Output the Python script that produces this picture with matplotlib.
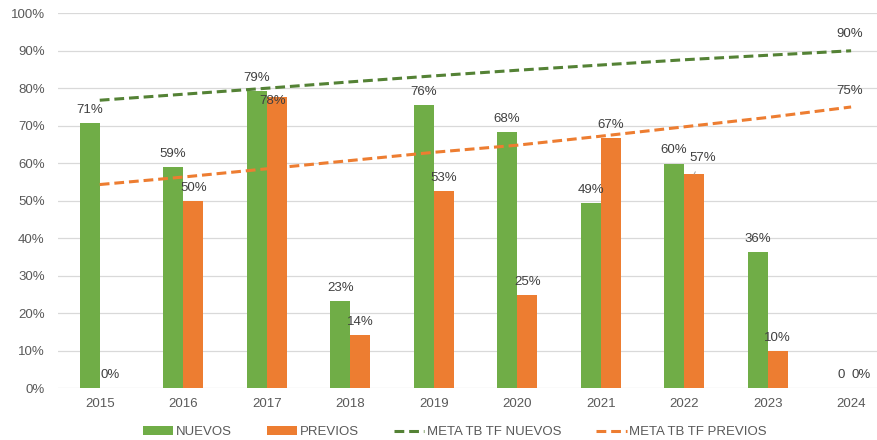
import numpy as np
import matplotlib
matplotlib.use('Agg')
import matplotlib.pyplot as plt

years = ['2015', '2016', '2017', '2018', '2019', '2020', '2021', '2022', '2023', '2024']
nuevos = [0.706, 0.590, 0.793, 0.232, 0.756, 0.682, 0.493, 0.599, 0.364, 0.0]
previos = [0.0, 0.500, 0.777, 0.141, 0.525, 0.248, 0.666, 0.571, 0.099, 0.0]
meta_nuevos = [0.768, 0.784, 0.800, 0.817, 0.833, 0.848, 0.862, 0.876, 0.888, 0.900]
meta_previos = [0.543, 0.563, 0.585, 0.607, 0.629, 0.648, 0.672, 0.697, 0.722, 0.750]
nuevos_lbl = ['71%', '59%', '79%', '23%', '76%', '68%', '49%', '60%', '36%', '0']
previos_lbl = ['0%', '50%', '78%', '14%', '53%', '25%', '67%', '57%', '10%', '0%']

GREEN = '#70AD47'
ORANGE = '#ED7D31'
DGREEN = '#548235'
TXT = '#404040'
AX = '#595959'

plt.rcParams['font.family'] = ['Liberation Sans', 'DejaVu Sans']

fig = plt.figure(figsize=(8.78, 4.40), dpi=100)
ax = fig.add_axes([58/878, 52/440, 819/878, 374.7/440])

x = np.arange(len(years))
w = 0.24
b1 = ax.bar(x - w/2, nuevos, w, color=GREEN, label='NUEVOS', zorder=2)
b2 = ax.bar(x + w/2, previos, w, color=ORANGE, label='PREVIOS', zorder=2)
l1, = ax.plot(x, meta_nuevos, color=DGREEN, lw=2.2, dashes=(3.2, 1.6),
              label='META TB TF NUEVOS', zorder=3)
l2, = ax.plot(x, meta_previos, color=ORANGE, lw=2.2, dashes=(3.2, 1.6),
              label='META TB TF PREVIOS', zorder=3)

ax.set_xlim(-0.5, 9.31)
ax.set_ylim(0, 1.0)
ax.set_yticks(np.arange(0, 1.01, 0.1))
ax.set_yticklabels(['%d%%' % round(v * 100) for v in np.arange(0, 1.01, 0.1)])
ax.set_xticks(x)
ax.set_xticklabels(years)
ax.tick_params(axis='both', length=0, labelsize=9.5, colors=AX)
ax.tick_params(axis='y', pad=9.5)
ax.tick_params(axis='x', pad=7)
ax.grid(axis='y', color='#D9D9D9', lw=0.9, zorder=0)
ax.set_axisbelow(True)
for s in ax.spines.values():
    s.set_visible(False)

fs = 9.5
for i in range(len(years)):
    ax.annotate(nuevos_lbl[i], (x[i] - w/2, nuevos[i]), xytext=(0, 9.4),
                textcoords='offset points', ha='center', va='center',
                fontsize=fs, color=TXT, zorder=4)
    if i == 2:
        off = (-3, -3)
    elif i == 7:
        off = (6, 11.5)
    else:
        off = (0, 9.4)
    if i == 7:
        # label pushed aside, with a small leader line
        ax.annotate(previos_lbl[i], (x[i] + w/2, previos[i]), xytext=off,
                    textcoords='offset points', ha='center', va='center',
                    fontsize=fs, color=TXT, zorder=4,
                    arrowprops=dict(arrowstyle='-', color='#A6A6A6', lw=0.75,
                                    shrinkA=4, shrinkB=0))
    else:
        ax.annotate(previos_lbl[i], (x[i] + w/2, previos[i]), xytext=off,
                    textcoords='offset points', ha='center', va='center',
                    fontsize=fs, color=TXT, zorder=4)

# meta labels at the last point
ax.annotate('%d%%' % round(meta_nuevos[-1] * 100), (x[-1], meta_nuevos[-1]),
            xytext=(-1, 12), textcoords='offset points', ha='center',
            va='center', fontsize=fs, color=TXT)
ax.annotate('%d%%' % round(meta_previos[-1] * 100), (x[-1], meta_previos[-1]),
            xytext=(-1, 11.5), textcoords='offset points', ha='center',
            va='center', fontsize=fs, color=TXT)

fig.legend(handles=[b1, b2, l1, l2], loc='center',
           bbox_to_anchor=(455/878, 1 - 432/440), ncol=4,
           frameon=False, fontsize=9.5, handlelength=2.3, handletextpad=0.2,
           columnspacing=2.65, labelcolor=AX)

fig.savefig('out.png', dpi=100)
